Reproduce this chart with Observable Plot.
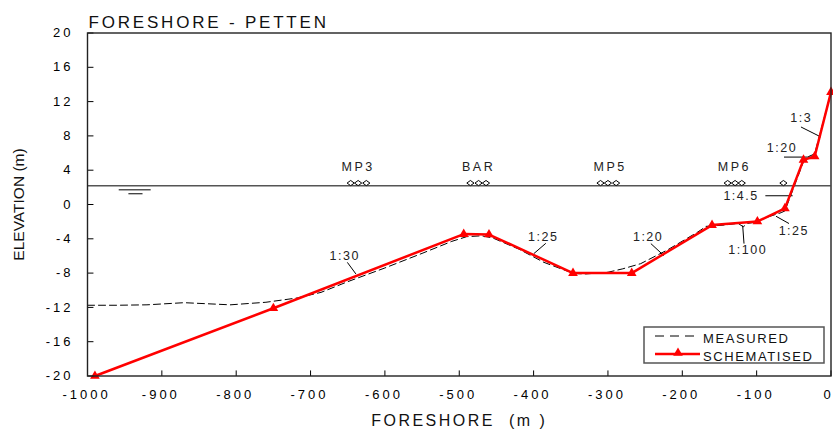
<!DOCTYPE html>
<html>
<head>
<meta charset="utf-8">
<script src="https://cdn.jsdelivr.net/npm/d3@7"></script>
<script src="https://cdn.jsdelivr.net/npm/@observablehq/plot@0.6"></script>
<style>
  body { margin: 0; background: #fff; }
  #wrap { position: relative; width: 833px; height: 429px; font-family: "Liberation Sans", Arial, sans-serif; }
  #legend { position: absolute; left: 642px; top: 325px; }
</style>
</head>
<body>
<div id="wrap"><div id="chart"></div><div id="legend"></div></div>
<script>
// ---- data ----
const titleText = "FORESHORE - PETTEN";
const xLabel = "FORESHORE  (m )";
const yLabel = "ELEVATION (m)";
const xTicks = [-1000, -900, -800, -700, -600, -500, -400, -300, -200, -100, 0];
const yTicks = [-20, -16, -12, -8, -4, 0, 4, 8, 12, 16, 20];

// schematised profile
const schemX = [-990, -750, -494, -460, -347, -268, -160, -99, -62, -37, -22, 0];
const schemY = [-20, -12.1, -3.45, -3.5, -8.0, -8.0, -2.4, -1.98, -0.45, 5.2, 5.6, 13.1];

// measured profile
const measX = [-1000, -960, -920, -870, -808, -760, -718, -686, -650, -600, -550, -510, -490, -470, -455, -420, -386, -360, -345, -330, -300, -280, -256, -220, -179, -168, -144, -125, -118, -112, -100, -90, -67, -62, -50, -37, -30, -22, 0];
const measY = [-11.75, -11.75, -11.7, -11.45, -11.7, -11.4, -10.9, -10.25, -9.0, -7.4, -5.7, -4.3, -3.75, -3.65, -3.9, -5.2, -6.75, -7.6, -8.05, -8.1, -7.9, -7.5, -6.9, -5.3, -3.2, -2.55, -2.4, -2.2, -2.6, -2.2, -2.05, -1.6, -0.95, -0.75, 2.0, 5.0, 5.6, 5.9, 13.1];

// still water level
const waterLevel = 2.2;
const waterMarkX1 = [-958, -945];
const waterMarkX2 = [-915, -926];
const waterMarkY = [1.71, 1.25];

// gauges
const gaugeNames = ["MP3", "BAR", "MP5", "MP6"];
const gaugeLabelX = [-636, -474, -297, -130];
const gaugeLabelY = 4.4;
const gaugeX = [-646, -636, -625, -485, -474, -464, -310, -300, -289, -139, -129, -120, -64];
const gaugeY = 2.5;

// slope annotations
const slopeText = ["1:30", "1:25", "1:20", "1:100", "1:25", "1:4.5", "1:20", "1:3"];
const slopeX = [-654, -387, -246, -112, -50, -121, -66, -40];
const slopeY = [-5.96, -3.82, -3.82, -5.26, -3.04, 0.94, 6.58, 10.06];
const leadX1 = [-650.5, -383.6, -242.3, -117, -56.5, -88.3, -63.2, -40.4];
const leadY1 = [-6.75, -4.53, -4.56, -4.56, -2.22, 1.02, 5.53, 9.04];
const leadX2 = [-639, -399.7, -224.8, -118.8, -74, -51.6, -24.6, -13.5];
const leadY2 = [-8.1, -5.73, -5.96, -2.46, -1.37, 1.02, 5.53, 7.87];

const legendNames = ["MEASURED", "SCHEMATISED"];

// ---- build tables ----
const schem = schemX.map((x, i) => ({x, y: schemY[i]}));
const meas = measX.map((x, i) => ({x, y: measY[i]}));
const waterMarks = waterMarkX1.map((x1, i) => ({x1, x2: waterMarkX2[i], y: waterMarkY[i]}));
const gaugeLabels = gaugeNames.map((t, i) => ({t, x: gaugeLabelX[i], y: gaugeLabelY}));
const gauges = gaugeX.map(x => ({x, y: gaugeY}));
const slopes = slopeText.map((t, i) => ({t, x: slopeX[i], y: slopeY[i], x1: leadX1[i], y1: leadY1[i], x2: leadX2[i], y2: leadY2[i]}));
const xTickRows = xTicks.map(x => ({x, y1: -20, y2: -19.35}));
const yTickRows = yTicks.map(y => ({y, x1: -1000, x2: -992}));

const wideDiamond = {
  draw(ctx) {
    const w = 3.6, h = 2.6;
    ctx.moveTo(-w, 0); ctx.lineTo(0, -h); ctx.lineTo(w, 0); ctx.lineTo(0, h); ctx.closePath();
  }
};

const chart = Plot.plot({
  width: 833,
  height: 429,
  marginLeft: 87,
  marginRight: 2.5,
  marginTop: 32.5,
  marginBottom: 53.5,
  x: {domain: [-1000, 0]},
  y: {domain: [-20, 20]},
  style: {fontFamily: "'Liberation Sans', Arial, sans-serif", background: "#fff", color: "#000", overflow: "visible"},
  marks: [
    Plot.ruleY([waterLevel], {stroke: "#555", strokeWidth: 1.5}),
    Plot.link(waterMarks, {x1: "x1", x2: "x2", y1: "y", y2: "y", stroke: "#000", strokeWidth: 1}),
    Plot.dot(gauges, {x: "x", y: "y", symbol: wideDiamond, stroke: "#000", fill: "#fff", strokeWidth: 1}),
    Plot.text(gaugeLabels, {x: "x", y: "y", text: "t", fontSize: 12.5, fill: "#222"}),
    Plot.line(meas, {x: "x", y: "y", stroke: "#000", strokeWidth: 1, strokeDasharray: "7,4"}),
    Plot.link(slopes, {x1: "x1", y1: "y1", x2: "x2", y2: "y2", stroke: "#000", strokeWidth: 1}),
    Plot.text(slopes, {x: "x", y: "y", text: "t", fontSize: 12.5, fill: "#222"}),
    Plot.line(schem, {x: "x", y: "y", stroke: "#ff0000", strokeWidth: 2.5}),
    Plot.dot(schem, {x: "x", y: "y", symbol: "triangle", r: 3.6, fill: "#ff0000", stroke: "none"}),
    Plot.link(xTickRows, {x1: "x", x2: "x", y1: "y1", y2: "y2", stroke: "#000"}),
    Plot.link(yTickRows, {x1: "x1", x2: "x2", y1: "y", y2: "y", stroke: "#000"}),
    Plot.frame({stroke: "#222", strokeWidth: 1.4}),
    Plot.axisX({ticks: xTicks, tickSize: 0, tickPadding: 14, dx: -1, fontSize: 13, label: null, tickFormat: d => String(d)}),
    Plot.axisY({ticks: yTicks, tickSize: 0, tickPadding: 14, fontSize: 13, label: null, tickFormat: d => String(d)}),
    Plot.text([titleText], {frameAnchor: "top-left", textAnchor: "start", lineAnchor: "bottom", dx: 1, dy: -5, fontSize: 17, fill: "#111"}),
    Plot.text([xLabel], {frameAnchor: "bottom", lineAnchor: "bottom", dy: 50, fontSize: 16, fill: "#111"}),
    Plot.text([yLabel], {frameAnchor: "left", textAnchor: "middle", rotate: -90, lineAnchor: "middle", dx: -68, fontSize: 15.5, fill: "#111"})
  ]
});
document.getElementById("chart").appendChild(chart);

// letter spacing, as in the reference's typewriter-like lettering
const spacing = new Map();
spacing.set(titleText, "2.8px");
spacing.set(xLabel, "2.5px");
gaugeNames.forEach(t => spacing.set(t, "2.5px"));
slopeText.forEach(t => spacing.set(t, "1.5px"));
xTicks.concat(yTicks).forEach(t => spacing.set(String(t), "3px"));
chart.querySelectorAll("text").forEach(el => {
  const s = spacing.get(el.textContent);
  if (s) el.style.letterSpacing = s;
});
// last x tick label ("0") sits at the right edge: keep it fully inside the picture
chart.querySelectorAll('g[aria-label="x-axis tick label"] text').forEach(el => {
  if (el.textContent === String(xTicks[xTicks.length - 1])) {
    el.style.letterSpacing = "0px";
    el.setAttribute("dx", "-3");
  }
});

// ---- legend ----
const lg = d3.select("#legend").append("svg").attr("width", 184).attr("height", 40)
  .style("font-family", "'Liberation Sans', Arial, sans-serif").style("overflow", "visible");
lg.append("rect").attr("x", 2).attr("y", 2).attr("width", 180).attr("height", 36)
  .attr("fill", "#fff").attr("stroke", "#555").attr("stroke-width", 1.5);
lg.append("line").attr("x1", 13).attr("x2", 54).attr("y1", 11).attr("y2", 11)
  .attr("stroke", "#000").attr("stroke-width", 1).attr("stroke-dasharray", "9,6");
lg.append("line").attr("x1", 13).attr("x2", 58).attr("y1", 29).attr("y2", 29)
  .attr("stroke", "#ff0000").attr("stroke-width", 2.5);
lg.append("path").attr("transform", "translate(36,28)")
  .attr("d", d3.symbol(d3.symbolTriangle, 40)()).attr("fill", "#ff0000");
legendNames.forEach((name, i) => {
  lg.append("text").attr("x", 61).attr("y", 18 + i * 18).attr("font-size", 13)
    .attr("letter-spacing", "1.6px").attr("fill", "#111").text(name);
});
</script>
</body>
</html>
